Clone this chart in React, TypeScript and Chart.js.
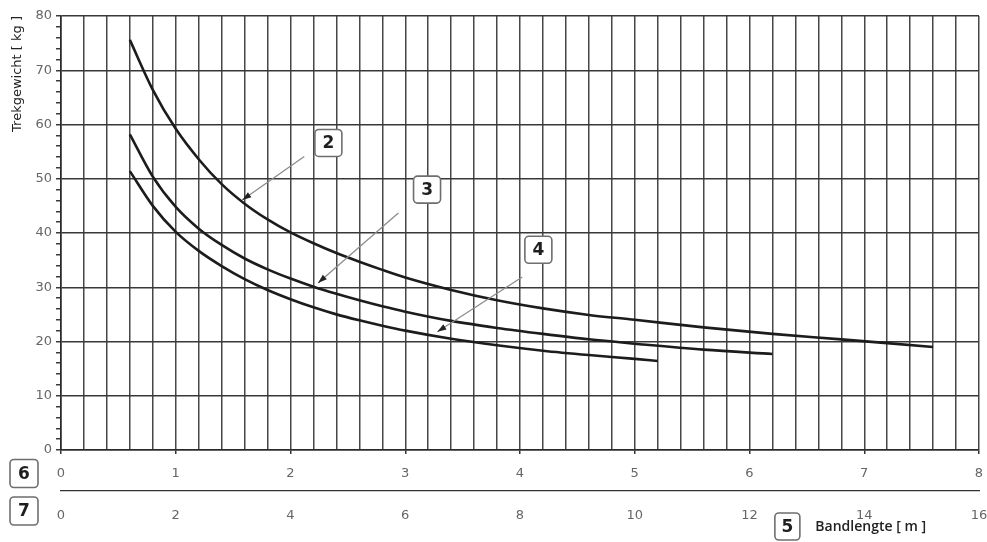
import { useEffect, useRef } from 'react';
import { Chart, registerables } from 'chart.js';

Chart.register(...registerables);

// Bandlengte [m] op de bovenste schaal (0-8) en trekgewicht [kg] per curve
const lengths2 = [0.6, 0.8, 1.0, 1.2, 1.4, 1.6, 1.8, 2.0, 2.2, 2.4, 2.6, 2.8, 3.0, 3.4, 3.8, 4.2, 4.6, 5.0, 5.6, 6.2, 6.8, 7.2, 7.6];
const weights2 = [75.6, 66.4, 59.2, 53.6, 49.0, 45.4, 42.5, 40.1, 38.1, 36.3, 34.7, 33.2, 31.8, 29.5, 27.6, 26.1, 24.9, 24.0, 22.6, 21.4, 20.4, 19.7, 19.0];

const lengths3 = [0.6, 0.8, 1.0, 1.2, 1.4, 1.6, 1.8, 2.0, 2.2, 2.4, 2.6, 2.8, 3.0, 3.4, 3.8, 4.2, 4.6, 5.0, 5.6, 6.2];
const weights3 = [58.2, 50.4, 44.8, 40.8, 37.8, 35.3, 33.3, 31.6, 30.1, 28.8, 27.6, 26.5, 25.5, 23.8, 22.5, 21.4, 20.4, 19.6, 18.5, 17.7];

const lengths4 = [0.6, 0.8, 1.0, 1.2, 1.4, 1.6, 1.8, 2.0, 2.2, 2.4, 2.6, 2.8, 3.0, 3.4, 3.8, 4.2, 4.6, 5.0, 5.2];
const weights4 = [51.4, 45.0, 40.2, 36.7, 33.9, 31.5, 29.5, 27.8, 26.3, 25.0, 23.9, 22.9, 22.0, 20.5, 19.3, 18.3, 17.5, 16.8, 16.4];

const curveLabels = ['2', '3', '4'];

// scales
const topScaleMax = 8;
const bottomScaleMax = 16;
const weightMax = 80;

// callouts: box, start of the leader and arrow tip, in data units
const callouts = [
    { label: '2', box: [2.33, 56.6], from: [2.12, 54.1], to: [1.58, 46.1] },
    { label: '3', box: [3.19, 48.0], from: [2.94, 43.7], to: [2.24, 30.8] },
    { label: '4', box: [4.16, 36.9], from: [4.02, 31.9], to: [3.28, 21.8] },
];

const isWhole = (v: number) => Math.abs(v - Math.round(v)) < 1e-6;

function drawBox(ctx: CanvasRenderingContext2D, cx: number, cy: number, text: string, w: number, h: number) {
    ctx.save();
    ctx.beginPath();
    ctx.roundRect(cx - w / 2, cy - h / 2, w, h, 4);
    ctx.fillStyle = '#ffffff';
    ctx.fill();
    ctx.lineWidth = 1.6;
    ctx.strokeStyle = '#6e6e6e';
    ctx.stroke();
    ctx.fillStyle = '#1e1e1e';
    ctx.font = 'bold 17px "DejaVu Sans"';
    ctx.textAlign = 'center';
    ctx.textBaseline = 'middle';
    ctx.fillText(text, cx, cy + 1);
    ctx.restore();
}

const annotationPlugin = {
    id: 'annotations',
    afterDraw(chart: any) {
        const { ctx, scales } = chart;
        const { x, y, x2 } = scales;

        callouts.forEach((c) => {
            const fx = x.getPixelForValue(c.from[0]);
            const fy = y.getPixelForValue(c.from[1]);
            const tx = x.getPixelForValue(c.to[0]);
            const ty = y.getPixelForValue(c.to[1]);
            ctx.save();
            ctx.strokeStyle = '#8c8c8c';
            ctx.lineWidth = 1.3;
            ctx.beginPath();
            ctx.moveTo(fx, fy);
            ctx.lineTo(tx, ty);
            ctx.stroke();
            const ang = Math.atan2(ty - fy, tx - fx);
            const len = 9;
            const half = 3;
            ctx.fillStyle = '#222';
            ctx.beginPath();
            ctx.moveTo(tx, ty);
            ctx.lineTo(tx - len * Math.cos(ang) + half * Math.sin(ang), ty - len * Math.sin(ang) - half * Math.cos(ang));
            ctx.lineTo(tx - len * Math.cos(ang) - half * Math.sin(ang), ty - len * Math.sin(ang) + half * Math.cos(ang));
            ctx.closePath();
            ctx.fill();
            ctx.restore();
            drawBox(ctx, x.getPixelForValue(c.box[0]), y.getPixelForValue(c.box[1]), c.label, 27, 27);
        });

        // axis keys
        drawBox(ctx, 24, x.top + 23.5, '6', 28, 28);
        drawBox(ctx, 24, x2.top + 20, '7', 28, 28);
        const keyX = x2.getPixelForValue(12.66);
        const keyY = x2.bottom - 15.5;
        drawBox(ctx, keyX, keyY, '5', 25, 27);
        ctx.save();
        ctx.fillStyle = '#222';
        ctx.font = '600 14px "Open Sans"';
        ctx.textAlign = 'left';
        ctx.textBaseline = 'middle';
        ctx.fillText('Bandlengte [ m ]', keyX + 28, keyY + 1);
        ctx.restore();
    },
};

const noSidePadding = (scale: any) => {
    scale.paddingLeft = 0;
    scale.paddingRight = 0;
};

export default function App() {
    const chartRef = useRef<HTMLCanvasElement>(null);

    useEffect(() => {
        if (!chartRef.current) return;

        const series = [
            { xs: lengths2, ys: weights2 },
            { xs: lengths3, ys: weights3 },
            { xs: lengths4, ys: weights4 },
        ];

        const chart = new Chart(chartRef.current, {
            type: 'line',
            data: {
                datasets: series.map((s, i) => ({
                    label: curveLabels[i],
                    data: s.xs.map((v, j) => ({ x: v, y: s.ys[j] })),
                    borderColor: '#1c1c1c',
                    borderWidth: 2.6,
                    pointRadius: 0,
                    fill: false,
                    cubicInterpolationMode: 'monotone' as const,
                    xAxisID: 'x',
                    yAxisID: 'y',
                })),
            },
            options: {
                animation: false,
                responsive: true,
                maintainAspectRatio: false,
                layout: { padding: { left: 0, right: 8, top: 16, bottom: 0 } },
                plugins: {
                    legend: { display: false },
                    tooltip: { enabled: false },
                },
                scales: {
                    x: {
                        type: 'linear',
                        position: 'bottom',
                        min: 0,
                        max: topScaleMax,
                        weight: 0,
                        afterFit: (scale: any) => { scale.height = 41; noSidePadding(scale); },
                        border: { display: true, color: '#2a2a2a', width: 1.6 },
                        grid: {
                            color: '#474747',
                            lineWidth: 1.5,
                            tickLength: 4,
                            tickColor: (ctx: any) => (isWhole(ctx.tick.value) ? '#333' : 'transparent'),
                        },
                        ticks: {
                            stepSize: 0.2,
                            autoSkip: false,
                            maxTicksLimit: 100,
                            maxRotation: 0,
                            padding: 12,
                            color: '#666',
                            font: { family: '"DejaVu Sans"', size: 13 },
                            callback: (v: any) => (isWhole(Number(v)) ? String(Math.round(Number(v))) : ''),
                        },
                    },
                    x2: {
                        type: 'linear',
                        position: 'bottom',
                        min: 0,
                        max: bottomScaleMax,
                        weight: 1,
                        afterFit: (scale: any) => { scale.height = 51; noSidePadding(scale); },
                        border: { display: true, color: '#333', width: 1.3 },
                        grid: { display: false },
                        ticks: {
                            stepSize: 2,
                            autoSkip: false,
                            maxRotation: 0,
                            padding: 9,
                            color: '#666',
                            font: { family: '"DejaVu Sans"', size: 13 },
                        },
                    },
                    y: {
                        type: 'linear',
                        min: 0,
                        max: weightMax,
                        afterFit: (scale: any) => { scale.width = 61; scale.paddingTop = 0; scale.paddingBottom = 0; },
                        border: { display: true, color: '#2a2a2a', width: 1.6 },
                        grid: {
                            color: (ctx: any) => (ctx.tick.value % 10 === 0 ? '#383838' : 'transparent'),
                            lineWidth: 1.5,
                            tickLength: 5,
                            tickColor: '#3a3a3a',
                        },
                        ticks: {
                            stepSize: 2,
                            autoSkip: false,
                            maxTicksLimit: 100,
                            padding: 4,
                            color: '#666',
                            font: { family: '"DejaVu Sans"', size: 13 },
                            callback: (v: any) => (Number(v) % 10 === 0 ? String(v) : ''),
                        },
                        title: {
                            display: true,
                            text: 'Trekgewicht [ kg ]',
                            align: 'end',
                            color: '#222',
                            font: { family: '"DejaVu Sans"', size: 13 },
                            padding: { top: 10, bottom: 0 },
                        },
                    },
                },
            },
            plugins: [annotationPlugin],
        });

        return () => { chart.destroy(); };
    }, []);

    return (
        <div style={{ position: 'fixed', left: 0, top: 0, width: 987, height: 542, background: '#fff' }}>
            <canvas ref={chartRef}></canvas>
        </div>
    );
}
